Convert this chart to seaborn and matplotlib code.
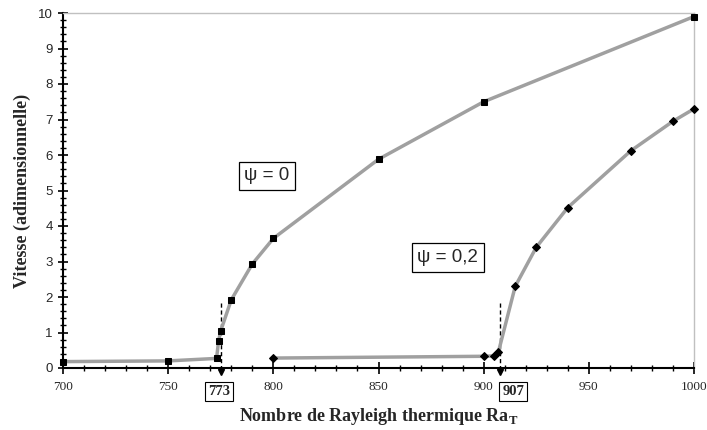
import matplotlib
matplotlib.use("Agg")
import matplotlib.pyplot as plt
import seaborn as sns
from matplotlib.ticker import MultipleLocator

# ---- data ----
ra_psi0 = [700, 750, 773, 774, 775, 780, 790, 800, 850, 900, 1000]
v_psi0 = [0.18, 0.20, 0.27, 0.77, 1.05, 1.92, 2.93, 3.65, 5.88, 7.50, 9.90]

ra_psi02 = [800, 900, 905, 907, 915, 925, 940, 970, 990, 1000]
v_psi02 = [0.28, 0.33, 0.34, 0.45, 2.30, 3.40, 4.52, 6.12, 6.95, 7.30]

crit_labels = ["773", "907"]
crit_line_x = [775.3, 907.8]
crit_box_x = [774.3, 914.1]
crit_top = [1.83, 1.83]

box_texts = ["ψ = 0", "ψ = 0,2"]
box_x = [797, 883]
box_y = [5.41, 3.11]

sns.set_theme(style="white")
plt.rcParams["font.family"] = ["Liberation Sans", "DejaVu Sans"]
plt.rcParams["mathtext.fontset"] = "custom"
plt.rcParams["mathtext.rm"] = "Liberation Serif"
plt.rcParams["mathtext.bf"] = "Liberation Serif:bold"

fig = plt.figure(figsize=(7.07, 4.30), dpi=100)
ax = fig.add_axes([63 / 707, (430 - 368) / 430, (694 - 63) / 707, (368 - 13) / 430])

line_color = "#a0a0a0"
sns.lineplot(x=ra_psi0, y=v_psi0, ax=ax, color=line_color, lw=2.5, sort=False,
             estimator=None, marker="s", markersize=5, markerfacecolor="black",
             markeredgecolor="black", clip_on=False, zorder=3)
sns.lineplot(x=ra_psi02, y=v_psi02, ax=ax, color=line_color, lw=2.5, sort=False,
             estimator=None, marker="D", markersize=4.5, markerfacecolor="black",
             markeredgecolor="black", clip_on=False, zorder=3)

# critical lines
for lx, top, bx, lab in zip(crit_line_x, crit_top, crit_box_x, crit_labels):
    ax.plot([lx, lx], [top, 0], ls=(0, (3, 2)), color="black", lw=1, zorder=2)
    ax.plot([lx], [-0.12], marker="v", color="black", markersize=5, clip_on=False, zorder=4)
    ax.text(bx, -0.067, lab, transform=ax.get_xaxis_transform(), ha="center", va="center",
            fontsize=10.5, fontweight="bold", family="Liberation Serif",
            bbox=dict(boxstyle="square,pad=0.2", fc="white", ec="black", lw=0.8))

for t, x, y in zip(box_texts, box_x, box_y):
    ax.text(x, y, t, ha="center", va="center", fontsize=13.5,
            bbox=dict(boxstyle="square,pad=0.3", fc="white", ec="black", lw=0.9))

ax.set_xlim(700, 1000)
ax.set_ylim(0, 10)
ax.xaxis.set_major_locator(MultipleLocator(50))
ax.xaxis.set_minor_locator(MultipleLocator(10))
ax.yaxis.set_major_locator(MultipleLocator(1))
ax.yaxis.set_minor_locator(MultipleLocator(0.2))

ax.tick_params(axis="x", which="major", direction="inout", length=9, width=1.2,
               color="black", pad=5, labelsize=9.5)
ax.tick_params(axis="x", which="minor", direction="inout", length=5, width=1, color="black")
ax.tick_params(axis="y", which="major", direction="inout", length=7, width=1.2,
               color="black", pad=4, labelsize=9.5)
ax.tick_params(axis="y", which="minor", direction="inout", length=4, width=1, color="black")
ax.tick_params(bottom=True, left=True, which="both")
for lbl in ax.get_xticklabels():
    lbl.set_family("Liberation Serif")

for s in ["left", "bottom"]:
    ax.spines[s].set_color("black")
    ax.spines[s].set_linewidth(1.5)
for s in ["top", "right"]:
    ax.spines[s].set_color("#c0c0c0")
    ax.spines[s].set_linewidth(1)

ax.set_xlabel(r"Nombre de Rayleigh thermique Ra$_{\mathbf{T}}$", fontsize=13,
              fontweight="bold", family="Liberation Serif", labelpad=9)
ax.set_ylabel("Vitesse (adimensionnelle)", fontsize=13, fontweight="bold",
              family="Liberation Serif", labelpad=5)

fig.savefig("out.png", dpi=100)
